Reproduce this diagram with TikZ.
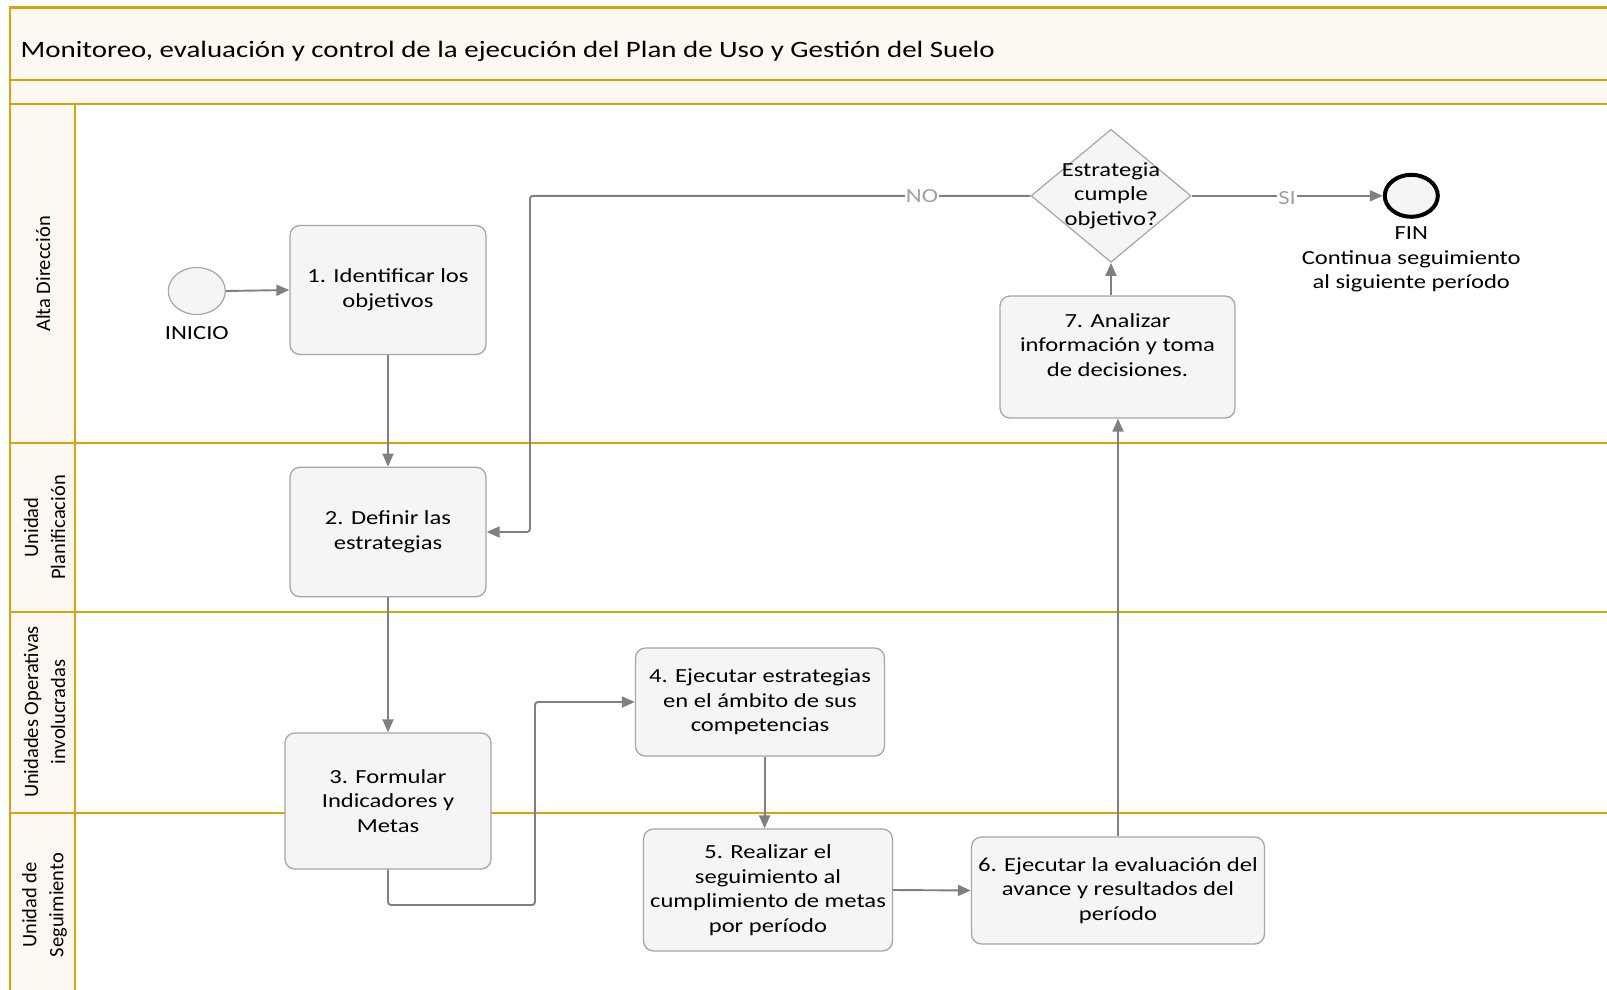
\documentclass[tikz,border=0pt]{standalone}
\usepackage{fontspec}
\setmainfont{Carlito}
\newfontfamily\boxfont[FakeStretch=1.23]{Carlito}
\newfontfamily\lanefont{Carlito}
\usetikzlibrary{arrows.meta,shapes.geometric,calc}
\definecolor{gold}{RGB}{216,163,12}
\definecolor{cream}{RGB}{254,248,242}
\definecolor{boxfill}{RGB}{245,245,245}
\definecolor{boxline}{RGB}{166,166,166}
\definecolor{arrowc}{RGB}{128,128,128}
\definecolor{lblc}{RGB}{160,160,160}
\tikzset{
  lane/.style={draw=gold, line width=2.6pt},
  proc/.style={draw=boxline, fill=boxfill, rounded corners=10pt, line width=1.3pt, align=center, inner sep=0pt,
    font=\boxfont\fontsize{20}{24.6}\selectfont},
  lower/.style={execute at begin node={\rule{0pt}{20pt}}},
  arr/.style={draw=arrowc, line width=1.9pt, rounded corners=3pt, -{Triangle[length=13pt,width=11pt]}},
  lanelbl/.style={rotate=90, align=center, font=\lanefont\fontsize{20.5}{27}\selectfont},
  txt/.style={align=center, font=\boxfont\fontsize{20}{24.6}\selectfont, inner sep=0pt},
  edgelbl/.style={fill=white, text=lblc, inner sep=1pt, font=\boxfont\fontsize{20}{24}\selectfont}
}
\begin{document}
\begin{tikzpicture}[x=1pt,y=-1pt]
\useasboundingbox (0,0) rectangle (1607,990);
\clip (0,0) rectangle (1607,990);
% pool header and lane labels
\fill[cream] (10,7.5) rectangle (1620,104);
\fill[cream] (10,104) rectangle (75,1000);
\draw[lane] (1620,7.5) -- (10,7.5) -- (10,1000);
\draw[lane] (10,80) -- (1620,80);
\draw[lane] (10,104) -- (1620,104);
\draw[lane] (10,443) -- (1620,443);
\draw[lane] (10,612) -- (1620,612);
\draw[lane] (10,813) -- (1620,813);
\draw[lane] (75,104) -- (75,1000);
\node[anchor=west, inner sep=0pt, font=\boxfont\fontsize{23.5}{26}\selectfont] (title) at (20.5,51) {Monitoreo, evaluación y control de la ejecución del Plan de Uso y Gestión del Suelo};
\node[lanelbl] (l1) at (43,274) {Alta Dirección};
\node[lanelbl] (l2) at (44.5,527.5) {Unidad\\Planificación};
\node[lanelbl] (l3) at (44.5,712) {Unidades Operativas\\involucradas};
\node[lanelbl] (l4) at (44.5,905) {Unidad de\\Seguimiento};
% events
\node[ellipse, draw=boxline, fill=boxfill, line width=1.2pt, minimum width=57pt, minimum height=47pt, inner sep=0pt] (inicio) at (196.8,291) {};
\node[txt, lower] (iniciolbl) at (196.8,330) {INICIO};
\node[ellipse, draw=black, fill=boxfill, line width=4pt, minimum width=53pt, minimum height=42pt, inner sep=0pt] (fin) at (1411.3,195.8) {};
\node[txt, lower] (finlbl) at (1411.3,259.5) {FIN\\Continua seguimiento\\al siguiente período};
% tasks
\node[proc, lower, minimum width=196pt, minimum height=129pt] (b1) at (388,290) {1. Identificar los\\objetivos};
\node[proc, lower, minimum width=196pt, minimum height=129.5pt] (b2) at (388,532) {2. Definir las\\estrategias};
\node[proc, lower, minimum width=206pt, minimum height=136pt] (b3) at (388,801) {3. Formular\\Indicadores y\\Metas};
\node[proc, lower, minimum width=249pt, minimum height=108pt] (b4) at (760,702) {4. Ejecutar estrategias\\en el ámbito de sus\\competencias};
\node[proc, lower, minimum width=249pt, minimum height=122pt] (b5) at (768,890) {5. Realizar el\\seguimiento al\\cumplimiento de metas\\por período};
\node[proc, lower, minimum width=293pt, minimum height=107pt] (b6) at (1118,890.5) {6. Ejecutar la evaluación del\\avance y resultados del\\período};
\node[proc, minimum width=235pt, minimum height=122pt] (b7) at (1117.5,357) {7. Analizar\\información y toma\\de decisiones.\\\mbox{}};
% gateway
\node[diamond, draw=boxline, fill=boxfill, line width=1.2pt, minimum width=160pt, minimum height=133pt, inner sep=0pt] (dec) at (1111,195.8) {};
\node[txt, lower] (dectxt) at (dec.center) {Estrategia\\cumple\\objetivo?};
% connectors
\coordinate (b34) at (535,905);
\coordinate (noturn) at (530,195.8);
\draw[arr] (inicio.east) -- (b1.west);
\draw[arr] (b1.south) -- (b2.north);
\draw[arr] (b2.south) -- (b3.north);
\draw[arr] (b3.south) |- (b34) |- (b4.west);
\draw[arr] ([xshift=4.6pt]b4.south) -- ([xshift=4.6pt]b4.south |- b5.north);
\draw[arr] (b5.east) -- (b6.west);
\draw[arr] (b6.north) -- (b6.north |- b7.south);
\draw[arr] (dec |- b7.north) -- (dec.south);
\draw[arr] (dec.west) -- (noturn) |- (b2.east);
\draw[arr] (dec.east) -- (fin.west);
\node[edgelbl] (nolbl) at (922,195.8) {NO};
\node[edgelbl] (silbl) at (1287,198) {SI};
\end{tikzpicture}
\end{document}
